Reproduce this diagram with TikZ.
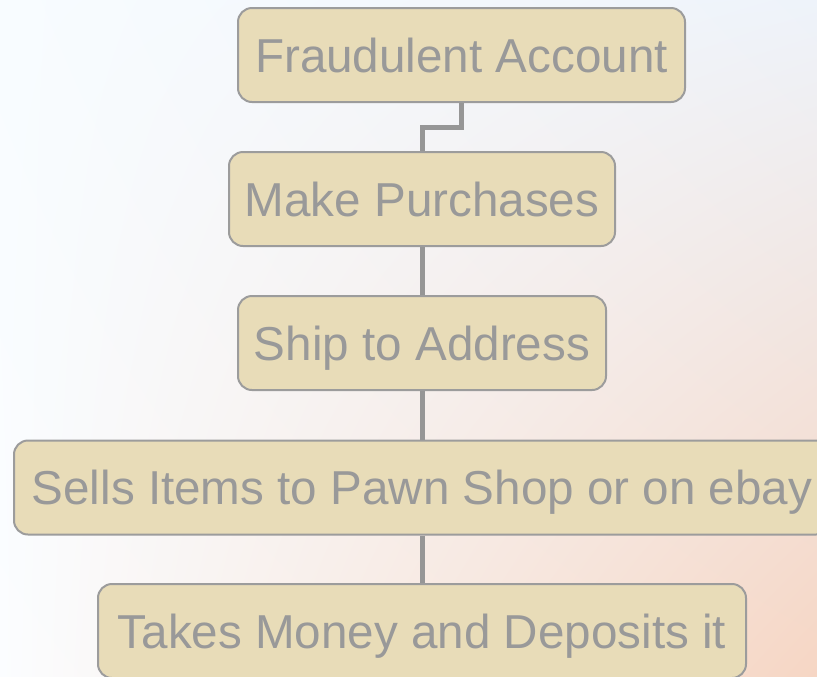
\documentclass[tikz,border=0pt]{standalone}
\usepackage{fontspec}
\setmainfont{Liberation Sans}
\usepackage{tikz}
\usetikzlibrary{shadings}

\definecolor{boxfill}{RGB}{232,220,184}
\definecolor{boxline}{RGB}{156,156,156}
\definecolor{boxtext}{RGB}{153,153,153}
\definecolor{linkgray}{RGB}{150,150,150}
\definecolor{bgul}{RGB}{248,252,255}
\definecolor{bgur}{RGB}{238,243,250}
\definecolor{bgll}{RGB}{251,253,255}
\definecolor{bglr}{RGB}{246,214,196}

\begin{document}
\begin{tikzpicture}[x=0.75pt,y=0.75pt,yscale=-1,xscale=1,
  box/.style={draw=boxline,fill=boxfill,line width=1.5pt,rounded corners=10.5pt,
    inner sep=0pt,text=boxtext,font=\fontsize{35.7}{40}\selectfont,
    text height=25.6pt,text depth=0pt,minimum height=70.5pt},
  link/.style={draw=linkgray,line width=3.75pt}]

\path[use as bounding box] (0,0) rectangle (817,676);
\clip (0,0) rectangle (817,676);

% background
\shade[upper left=bgul,upper right=bgur,lower left=bgll,lower right=bglr]
  (0,0) rectangle (817,676);

% steps
\node[box,minimum width=335.25pt] (fa) at (461.5,55) {Fraudulent Account};
\node[box,minimum width=289.5pt] (mp) at (422,199) {Make Purchases};
\node[box,minimum width=276pt] (sa) at (422,343) {Ship to Address};
\node[box,minimum width=612pt] (si) at (422,487.5) {Sells Items to Pawn Shop or on ebay};
\node[box,minimum width=486pt] (tm) at (422,631) {Takes Money and Deposits it};

% links
\draw[link] (fa.south) -- ++(0,24) -| (mp.north);
\draw[link] (mp.south) -- (sa.north);
\draw[link] (sa.south) -- (si.north);
\draw[link] (si.south) -- (tm.north);

\end{tikzpicture}
\end{document}
